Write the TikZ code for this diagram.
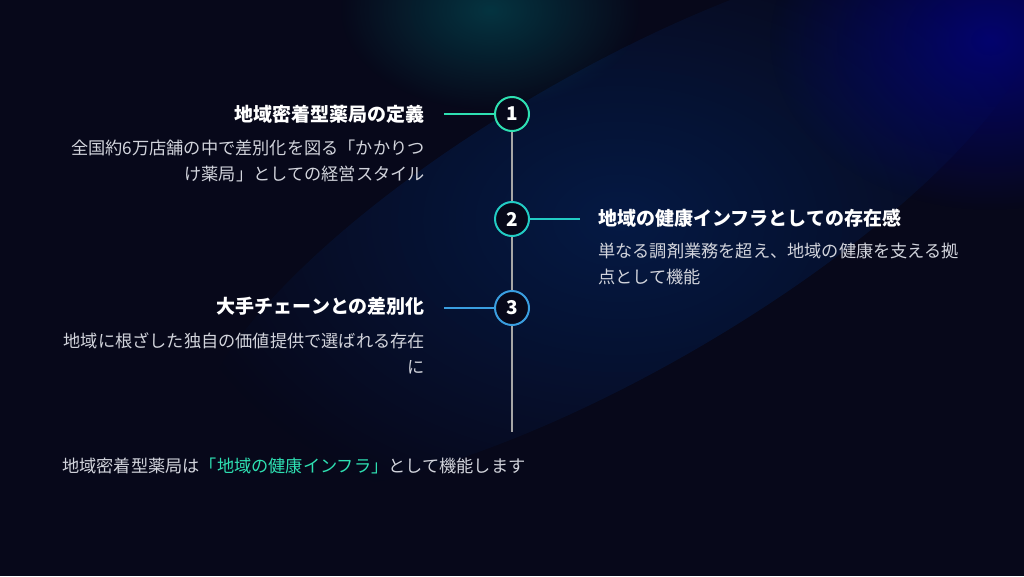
\documentclass[tikz,border=0pt]{standalone}
\usepackage{fontspec}
\setmainfont{Noto Sans CJK JP}
\usetikzlibrary{fadings}
\tikzfading[name=glow, inner color=transparent!0, outer color=transparent!100]
\definecolor{bg}{HTML}{07081A}
\definecolor{cA}{HTML}{2EE0B2}
\definecolor{cB}{HTML}{22CCC4}
\definecolor{cC}{HTML}{3A9EE0}
\definecolor{txt}{HTML}{D2D4DC}
\begin{document}
\begin{tikzpicture}[x=1pt,y=-1pt,
  num/.style={circle,draw=#1,line width=2pt,fill=bg,minimum size=34pt,inner sep=0pt,text=white,font=\fontsize{19}{20}\selectfont\bfseries},
  ttl/.style={text=white,font=\fontsize{19}{22}\selectfont\bfseries,inner sep=0pt},
  body/.style={text=txt,font=\fontsize{17.2}{26}\selectfont,inner sep=0pt},
  lnk/.style={line width=2pt}]
\useasboundingbox (0,0) rectangle (1024,576);
\clip (0,0) rectangle (1024,576);
\fill[bg] (0,0) rectangle (1024,576);
\fill[teal!80!cyan,fill opacity=0.3,path fading=glow] (490,10) ellipse (150 and 100);
\fill[blue!60!cyan!70!black,fill opacity=0.28,path fading=glow,rotate around={30:(620,220)}] (620,220) ellipse (480 and 150);
\fill[blue!70!black,fill opacity=0.55,path fading=glow] (990,40) ellipse (220 and 170);
\draw[gray!70,line width=2pt] (512,114) -- (512,432);
\node[num=cA] (n1) at (512,114) {1};
\node[num=cB] (n2) at (512,219) {2};
\node[num=cC] (n3) at (512,308) {3};
\coordinate (e1) at (444,114);
\coordinate (e2) at (580,219);
\coordinate (e3) at (444,308);
\draw[lnk,cA] (e1) -- (n1);
\draw[lnk,cB] (n2) -- (e2);
\draw[lnk,cC] (e3) -- (n3);
\node[ttl,anchor=east] (t1) at (425,114) {地域密着型薬局の定義};
\node[body,anchor=north east,align=right] (b1) at (425,140) {全国約6万店舗の中で差別化を図る「かかりつ\\け薬局」としての経営スタイル};
\node[ttl,anchor=west] (t2) at (598,218) {地域の健康インフラとしての存在感};
\node[body,anchor=north west,align=left] (b2) at (598,243) {単なる調剤業務を超え、地域の健康を支える拠\\点として機能};
\node[ttl,anchor=east] (t3) at (425,306) {大手チェーンとの差別化};
\node[body,anchor=north east,align=right] (b3) at (425,332) {地域に根ざした独自の価値提供で選ばれる存在\\に};
\node[anchor=west,inner sep=0pt,text=txt,font=\fontsize{17.2}{20}\selectfont] (f) at (62,466) {地域密着型薬局は\textcolor{cA}{「地域の健康インフラ」}として機能します};
\end{tikzpicture}
\end{document}
